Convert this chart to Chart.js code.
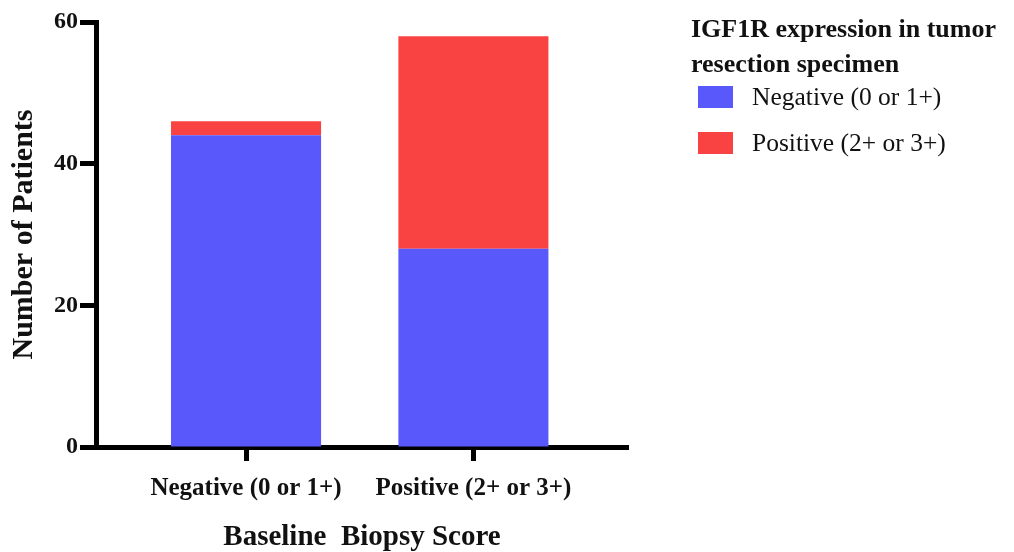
<!DOCTYPE html>
<html>
<head>
<meta charset="utf-8">
<script src="https://cdn.jsdelivr.net/npm/chart.js@4.4.1/dist/chart.umd.min.js"></script>
<style>
  html, body { margin: 0; padding: 0; background: #fff; }
  #wrap { width: 1014px; height: 552px; }
</style>
</head>
<body>
<div id="wrap"><canvas id="c" width="1014" height="552"></canvas></div>
<script>
// ---- data ----
const categories = ["Negative (0 or 1+)", "Positive (2+ or 3+)"];
const negativeValues = [44, 28];
const positiveValues = [2, 30];
const seriesLabels = ["Negative (0 or 1+)", "Positive (2+ or 3+)"];
const yTicks = [0, 20, 40, 60];
const legendTitle = ["IGF1R expression in tumor", "resection specimen"];
const xTitle = "Baseline  Biopsy Score";
const yTitle = "Number of Patients";

const SERIF = "'Liberation Serif', 'DejaVu Serif', serif";

const legendPlugin = {
  id: 'customLegend',
  afterDraw(chart) {
    const ctx = chart.ctx;
    ctx.save();
    ctx.fillStyle = '#111';
    ctx.textBaseline = 'middle';
    ctx.textAlign = 'left';
    ctx.font = "bold 26px " + SERIF;
    legendTitle.forEach((t, i) => ctx.fillText(t, 691, 30 + i * 35));
    ctx.font = "25.5px " + SERIF;
    chart.data.datasets.forEach((ds, i) => {
      const cy = 97 + i * 46;
      ctx.fillStyle = ds.backgroundColor;
      ctx.fillRect(698, cy - 11, 35, 22);
      ctx.fillStyle = '#111';
      ctx.fillText(ds.label, 752, cy + 1);
    });
    ctx.restore();
  }
};

new Chart(document.getElementById('c'), {
  type: 'bar',
  data: {
    datasets: [
      { label: seriesLabels[0], data: negativeValues.map((v, i) => ({ x: i, y: v })),
        backgroundColor: '#5858FB', borderWidth: 0 },
      { label: seriesLabels[1], data: positiveValues.map((v, i) => ({ x: i, y: v })),
        backgroundColor: '#F94242', borderWidth: 0 }
    ]
  },
  options: {
    responsive: false,
    animation: false,
    devicePixelRatio: 1,
    layout: { padding: { left: 0, right: 386, top: 22, bottom: 0 } },
    datasets: { bar: { categoryPercentage: 1, barPercentage: 0.66 } },
    plugins: { legend: { display: false }, tooltip: { enabled: false } },
    scales: {
      x: {
        type: 'linear',
        stacked: true,
        offset: false,
        min: -0.66,
        max: 1.68,
        afterBuildTicks: (s) => { s.ticks = categories.map((c, i) => ({ value: i })); },
        afterFit: (s) => { s.height = 105; },
        ticks: {
          callback: (v) => categories[v],
          color: '#111',
          font: { family: SERIF, size: 25, weight: 'bold' },
          padding: 13,
          maxRotation: 0,
          autoSkip: false
        },
        grid: { offset: false, drawOnChartArea: false, drawTicks: true, tickLength: 14, tickWidth: 5, tickColor: '#000' },
        border: { display: true, width: 5, color: '#000' },
        title: {
          display: true, text: xTitle, color: '#111',
          font: { family: SERIF, size: 29, weight: 'bold', lineHeight: 1.0 },
          padding: { top: 0, bottom: 0 }
        }
      },
      y: {
        stacked: true,
        min: 0,
        max: 60,
        afterBuildTicks: (s) => { s.ticks = yTicks.map(v => ({ value: v })); },
        afterFit: (s) => { s.width = 96; },
        ticks: {
          color: '#111',
          font: { family: SERIF, size: 24, weight: 'bold' },
          padding: 2
        },
        grid: { drawOnChartArea: false, drawTicks: true, tickLength: 16, tickWidth: 5, tickColor: '#000' },
        border: { display: true, width: 5, color: '#000' },
        title: {
          display: true, text: yTitle, color: '#111',
          font: { family: SERIF, size: 30, weight: 'bold' },
          padding: { top: 6, bottom: 0 }
        }
      }
    }
  },
  plugins: [legendPlugin]
});
</script>
</body>
</html>
